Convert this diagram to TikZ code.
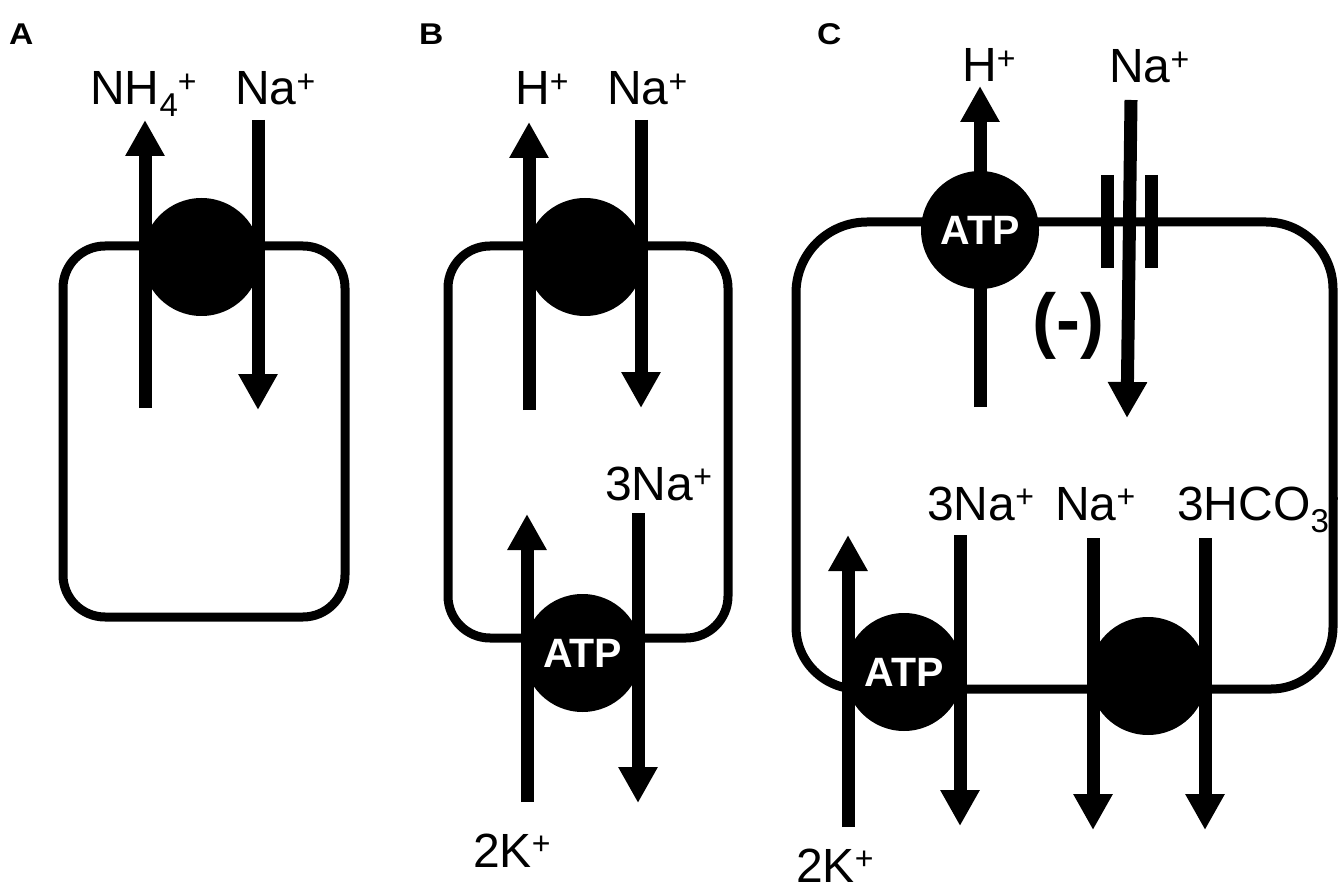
\documentclass[tikz,border=0pt]{standalone}
\usepackage{fontspec}
\setmainfont{Liberation Sans}
\usepackage{graphicx}
\usetikzlibrary{arrows.meta}
% raised / lowered parts of ion formulas
\newcommand\ionup[1]{\raisebox{0.27em}{\fontsize{32}{32}\selectfont #1}}
\newcommand\iondn[1]{\raisebox{-0.25em}{\fontsize{33}{33}\selectfont #1}}
\begin{document}
\begin{tikzpicture}[x=1pt,y=1pt,
  cell/.style={line width=9pt},
  pump/.style={circle, fill=black, minimum size=118pt, inner sep=0pt,
    text=white, font=\bfseries\fontsize{41}{41}\selectfont},
  ion/.style={line width=13pt, -{Triangle[width=37pt,length=36pt]}},
  gate/.style={line width=13pt},
  ionlabel/.style={anchor=base west, inner sep=0pt, font=\fontsize{48}{56}\selectfont},
  panel/.style={anchor=base west, inner sep=0pt, font=\bfseries\fontsize{30}{34}\selectfont},
]
\useasboundingbox (0,0) rectangle (1338,-890);

% ---------- cell outlines ----------
\draw[cell, rounded corners=42pt] (63,-246) rectangle (345,-617);
\draw[cell, rounded corners=42pt] (448,-246) rectangle (728,-638);
\draw[cell] (867,-222) -- (1266,-222) arc[start angle=90,end angle=0,radius=67pt]
  -- (1333,-627) arc[start angle=0,end angle=-90,radius=62pt]
  -- (858,-689) arc[start angle=270,end angle=180,radius=62pt]
  -- (796,-293) arc[start angle=180,end angle=90,radius=71pt] -- cycle;

% ---------- panel letters ----------
\node[panel] (pA) at (9,-45) {\scalebox{1.12}[1]{A}};
\node[panel] (pB) at (419,-45) {\scalebox{1.12}[1]{B}};
\node[panel] (pC) at (817,-45) {\scalebox{1.12}[1]{C}};

% ---------- ion fluxes ----------
% A
\coordinate (a1s) at (145,-408); \coordinate (a1e) at (145,-120);
\coordinate (a2s) at (258,-120); \coordinate (a2e) at (258,-410);
\draw[ion] (a1s) -- (a1e);
\draw[ion] (a2s) -- (a2e);
% B, apical
\coordinate (b1s) at (529,-410); \coordinate (b1e) at (529,-122);
\coordinate (b2s) at (641,-120); \coordinate (b2e) at (641,-408);
\draw[ion] (b1s) -- (b1e);
\draw[ion] (b2s) -- (b2e);
% B, basolateral
\coordinate (b3s) at (527,-802); \coordinate (b3e) at (527,-514);
\coordinate (b4s) at (638,-513); \coordinate (b4e) at (638,-803);
\draw[ion] (b3s) -- (b3e);
\draw[ion] (b4s) -- (b4e);
% C, apical
\coordinate (c1s) at (980,-407); \coordinate (c1e) at (980,-86);
\coordinate (c2s) at (1131,-100); \coordinate (c2e) at (1127,-418);
\draw[ion] (c1s) -- (c1e);
\draw[ion] (c2s) -- (c2e);
% C, basolateral
\coordinate (c3s) at (848,-827); \coordinate (c3e) at (848,-535);
\coordinate (c4s) at (960,-535); \coordinate (c4e) at (960,-826);
\coordinate (c5s) at (1093,-538); \coordinate (c5e) at (1093,-830);
\coordinate (c6s) at (1205,-538); \coordinate (c6e) at (1205,-830);
\draw[ion] (c3s) -- (c3e);
\draw[ion] (c4s) -- (c4e);
\draw[ion] (c5s) -- (c5e);
\draw[ion] (c6s) -- (c6e);

% ---------- Na+ channel in C ----------
\draw[gate] (1107,-175) -- (1107,-268);
\draw[gate] (1151,-175) -- (1151,-268);

% ---------- transporters ----------
\node[pump] (tA)  at (201.5,-257) {};
\node[pump] (tB1) at (585,-257) {};
\node[pump] (tB2) at (582.5,-653) {ATP};
\node[pump] (tC1) at (980,-230) {ATP};
\node[pump] (tC2) at (904,-672) {ATP};
\node[pump] (tC3) at (1148,-676) {};

% ---------- labels ----------
\node[ionlabel] (lA1) at (90,-105) {NH\iondn{4}\ionup{+}};
\node[ionlabel] (lA2) at (235,-105) {Na\ionup{+}};
\node[ionlabel] (lB1) at (515,-105) {H\ionup{+}};
\node[ionlabel] (lB2) at (607,-105) {Na\ionup{+}};
\node[ionlabel] (lB3) at (605,-500) {3Na\ionup{+}};
\node[ionlabel] (lB4) at (473,-867) {2K\ionup{+}};
\node[ionlabel] (lC1) at (962,-82) {H\ionup{+}};
\node[ionlabel] (lC2) at (1109,-83) {Na\ionup{+}};
\node[ionlabel] (lC3) at (927,-520) {3Na\ionup{+}};
\node[ionlabel] (lC4) at (1055,-520) {Na\ionup{+}};
\node[ionlabel] (lC5) at (1177,-520) {3HCO\iondn{3}\ionup{-}};
\node[ionlabel] (lC6) at (796,-882) {2K\ionup{+}};
\node[inner sep=0pt, font=\bfseries\fontsize{72}{72}\selectfont] (neg) at (1068,-326) {(-)};
\end{tikzpicture}
\end{document}
